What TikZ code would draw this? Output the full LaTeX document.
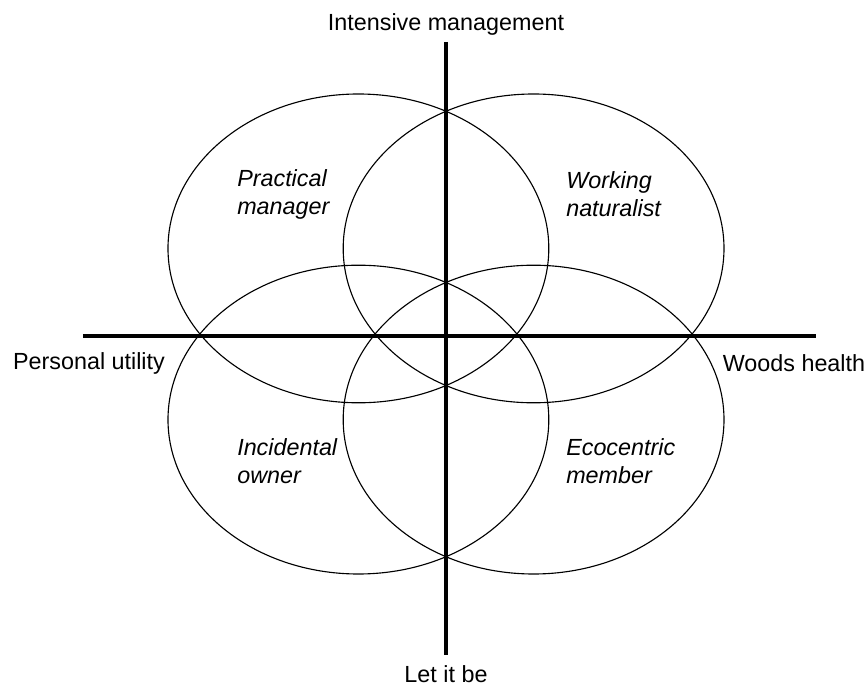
\documentclass[tikz,border=0pt]{standalone}
\usepackage{fontspec}
\setmainfont{Liberation Sans}
\usetikzlibrary{positioning, shapes.geometric}

\begin{document}
\begin{tikzpicture}[
    axis/.style={line width=3.3pt},
    ring/.style={draw, ellipse, minimum width=9.52cm, minimum height=7.72cm,
                 inner sep=0pt, line width=0.8pt},
    lbl/.style={font=\fontsize{16.6}{19.9}\selectfont, inner sep=0pt},
    kind/.style={lbl, font=\fontsize{16.6}{19.9}\selectfont\itshape,
                 anchor=west, align=left}
  ]
  \useasboundingbox (-11.15,-8.75) rectangle (10.525,8.4);

  % the four owner types
  \node[ring] (pm) at (-2.19, 2.19) {};
  \node[ring] (wn) at ( 2.19, 2.19) {};
  \node[ring] (io) at (-2.19,-2.09) {};
  \node[ring] (em) at ( 2.19,-2.09) {};

  % axes
  \coordinate (up)   at (0, 7.35);
  \coordinate (down) at (0,-7.975);
  \coordinate (lft)  at (-9.075,0);
  \coordinate (rgt)  at ( 9.25,0);
  \draw[axis] (up) -- (down);
  \draw[axis] (lft) -- (rgt);

  \node[lbl, above=0.15cm of up] (im) {Intensive management};
  \node[lbl, below=0.25cm of down] (lb) {Let it be};
  \node[lbl] (pu) at (-8.925,-0.675) {Personal utility};
  \node[lbl] (wh) at ( 8.7,-0.675) {Woods health};

  \node[kind] (pmt) at (-5.225, 3.55) {Practical\\manager};
  \node[kind] (wnt) at ( 3.0,   3.55) {Working\\naturalist};
  \node[kind] (iot) at (-5.225,-3.14) {Incidental\\owner};
  \node[kind] (emt) at ( 3.0,  -3.14) {Ecocentric\\member};
\end{tikzpicture}
\end{document}
